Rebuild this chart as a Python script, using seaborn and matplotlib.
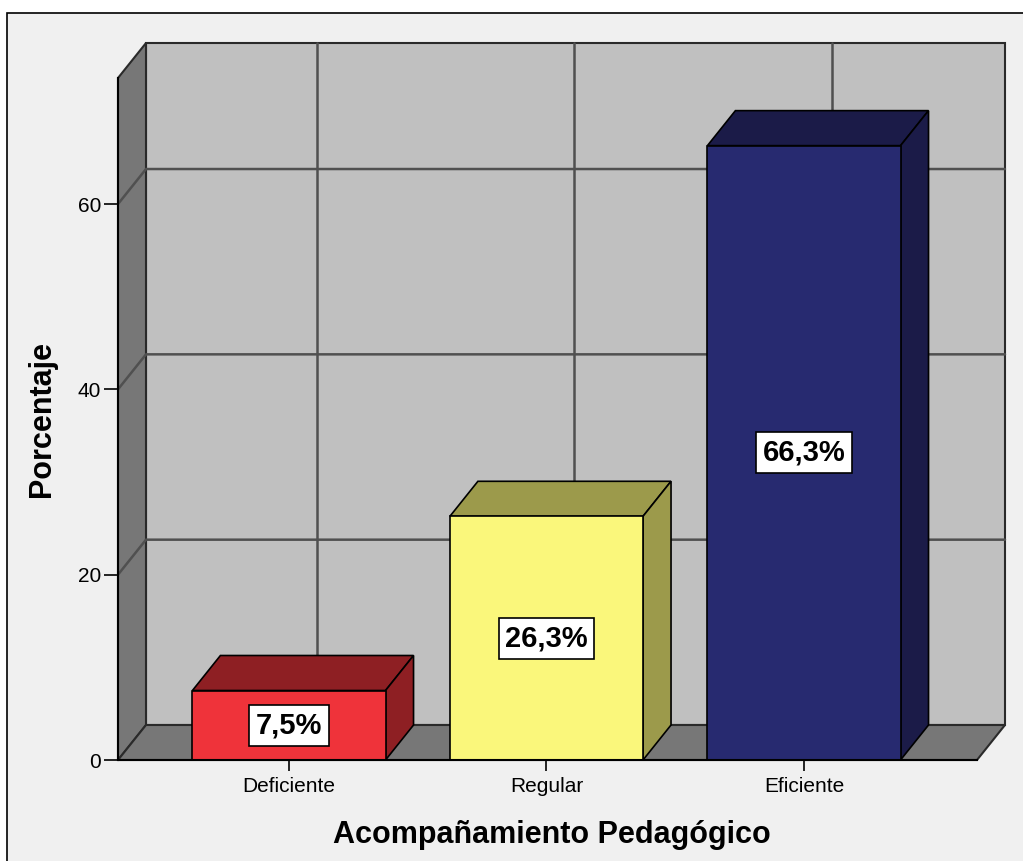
import matplotlib
matplotlib.use("Agg")
import matplotlib.pyplot as plt
from matplotlib.patches import Polygon, Rectangle
from matplotlib.lines import Line2D
import seaborn as sns
import pandas as pd

# ---- data ----
categories = ["Deficiente", "Regular", "Eficiente"]
percentages = [7.5, 26.3, 66.3]
value_labels = ["7,5%", "26,3%", "66,3%"]
y_ticks = [0, 20, 40, 60]
x_title = "Acompañamiento Pedagógico"
y_title = "Porcentaje"

front_colors = ["#EF333A", "#FAF77B", "#272A70"]
side_colors = ["#8E1F23", "#9C9A4B", "#1B1B48"]

sns.set_theme(style="white")
plt.rcParams["font.family"] = ["Liberation Sans", "DejaVu Sans"]
plt.rcParams["text.color"] = "black"
plt.rcParams["axes.labelcolor"] = "black"
plt.rcParams["xtick.color"] = "black"
plt.rcParams["ytick.color"] = "black"

W, H, DPI = 1023, 861, 100
fig = plt.figure(figsize=(W / DPI, H / DPI), dpi=DPI, facecolor="white")

# outer light panel with frame (top and left edges visible)
fig.add_artist(Rectangle((7 / W, -0.02), 1.0, (H - 13) / H + 0.02,
                         transform=fig.transFigure, facecolor="#F0F0F0",
                         edgecolor="black", linewidth=1.2, zorder=0))

ax = fig.add_axes([118 / W, (H - 760) / H, (977 - 118) / W, (760 - 78) / H])
ax.set_facecolor("none")

df = pd.DataFrame({"cat": categories, "pct": percentages})
sns.barplot(data=df, x="cat", y="pct", hue="cat", palette=front_colors,
            legend=False, width=0.75, edgecolor="black", linewidth=1.2,
            saturation=1, ax=ax, zorder=5)

XMIN, XMAX = -0.664, 2.672
YMAX = 73.6
ax.set_xlim(XMIN, XMAX)
ax.set_ylim(0, YMAX)

# depth offset in data units (28 px right, 35 px up)
px_x = ax.bbox.width / (XMAX - XMIN)
px_y = ax.bbox.height / YMAX
dx = 28 / px_x
dy = 35 / px_y

wall_grey = "#C0C0C0"
dark_grey = "#777777"
edge = "#2A2A2A"

# back wall
ax.add_patch(Rectangle((XMIN + dx, dy), XMAX - XMIN, YMAX, facecolor=wall_grey,
                       edgecolor=edge, linewidth=1.5, clip_on=False, zorder=0.5))
# left side wall
ax.add_patch(Polygon([(XMIN, 0), (XMIN, YMAX), (XMIN + dx, YMAX + dy), (XMIN + dx, dy)],
                     closed=True, facecolor=dark_grey, edgecolor=edge,
                     linewidth=1.5, clip_on=False, zorder=0.6))
# floor
ax.add_patch(Polygon([(XMIN, 0), (XMAX, 0), (XMAX + dx, dy), (XMIN + dx, dy)],
                     closed=True, facecolor=dark_grey, edgecolor=edge,
                     linewidth=1.5, clip_on=False, zorder=0.6))

grid_c = "#505050"
for yv in y_ticks[1:]:
    ax.add_line(Line2D([XMIN, XMIN + dx, XMAX + dx], [yv, yv + dy, yv + dy],
                       color=grid_c, linewidth=1.8, clip_on=False, zorder=0.7))
for i in range(len(categories)):
    ax.add_line(Line2D([i + dx, i + dx], [dy, YMAX + dy], color=grid_c,
                       linewidth=1.8, clip_on=False, zorder=0.7))

# 3D faces of bars
bars = [p for p in ax.patches if isinstance(p, Rectangle) and p.get_height() > 0
        and p.get_zorder() == 5]
bars = sorted(bars, key=lambda p: p.get_x())
for k, b in enumerate(bars):
    x0 = b.get_x()
    x1 = x0 + b.get_width()
    h = b.get_height()
    ax.add_patch(Polygon([(x0, h), (x1, h), (x1 + dx, h + dy), (x0 + dx, h + dy)],
                         closed=True, facecolor=side_colors[k], edgecolor="black",
                         linewidth=1.2, clip_on=False, zorder=4))
    ax.add_patch(Polygon([(x1, 0), (x1, h), (x1 + dx, h + dy), (x1 + dx, dy)],
                         closed=True, facecolor=side_colors[k], edgecolor="black",
                         linewidth=1.2, clip_on=False, zorder=4))
    ax.text((x0 + x1) / 2, h / 2, value_labels[k], ha="center", va="center",
            fontsize=21, fontweight="bold", color="black", zorder=7,
            bbox=dict(boxstyle="square,pad=0.22", facecolor="white",
                      edgecolor="black", linewidth=1.2))

# axes styling
for s in ["top", "right"]:
    ax.spines[s].set_visible(False)
for s in ["left", "bottom"]:
    ax.spines[s].set_visible(True)
    ax.spines[s].set_color("black")
    ax.spines[s].set_linewidth(1.5)
    ax.spines[s].set_zorder(6)

ax.set_yticks(y_ticks)
ax.set_yticklabels([str(t) for t in y_ticks])
ax.tick_params(axis="y", length=10, width=1.2, color="black", labelcolor="black",
               labelsize=15, pad=2, left=True)
ax.tick_params(axis="x", length=8, width=1.2, color="black", labelcolor="black",
               labelsize=15, pad=4, bottom=True)
ax.grid(False)

ax.set_xlabel(x_title, fontsize=22, fontweight="bold", va="center", color="black")
ax.set_ylabel(y_title, fontsize=22, fontweight="bold", va="center", color="black")
ax.xaxis.set_label_coords(0.505, -0.110)
ax.yaxis.set_label_coords(-0.0885, 0.5)

fig.savefig("out.png", dpi=DPI, facecolor=fig.get_facecolor())
